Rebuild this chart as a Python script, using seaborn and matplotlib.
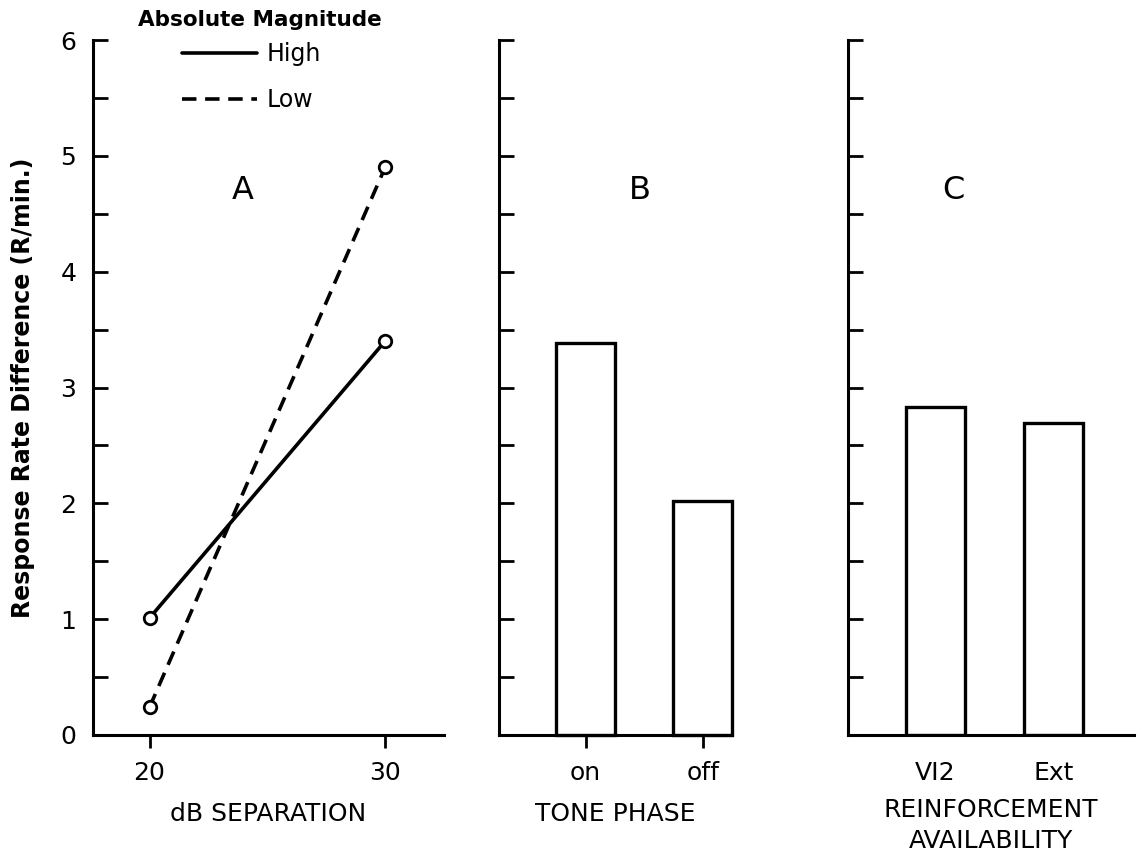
import numpy as np
import pandas as pd
import matplotlib
matplotlib.use("Agg")
import matplotlib.pyplot as plt
from matplotlib.lines import Line2D
import seaborn as sns

# ---- data ----
db_levels = [20, 30]
high_vals = [1.01, 3.40]
low_vals = [0.24, 4.90]

tone_phase = ["on", "off"]
tone_vals = [3.38, 2.02]

reinf_cats = ["VI2", "Ext"]
reinf_vals = [2.83, 2.69]

ytick_vals = np.arange(0, 6.01, 0.5)
ytick_labels = [str(int(v)) if float(v).is_integer() else "" for v in ytick_vals]

sns.set_theme(style="ticks")
plt.rcParams['font.family'] = ['DejaVu Sans']
plt.rcParams['text.color'] = 'black'
plt.rcParams['axes.labelcolor'] = 'black'

W, H = 1144, 857
fig = plt.figure(figsize=(W / 100, H / 100), dpi=100)

def ax_at(x0, x1, y0, y1):
    return fig.add_axes([x0 / W, 1 - y1 / H, (x1 - x0) / W, (y1 - y0) / H])

axA = ax_at(93, 444, 40, 735)
axB = ax_at(499, 732, 40, 735)
axC = ax_at(848, 1134, 40, 735)

spine_lw = 2.2
for ax in (axA, axB, axC):
    sns.despine(ax=ax)
    for s in ("left", "bottom"):
        ax.spines[s].set_linewidth(spine_lw)
        ax.spines[s].set_color("black")
    ax.set_ylim(0, 6)
    ax.set_yticks(ytick_vals)
    ax.tick_params(axis="y", direction="in", length=11, width=2, colors="black",
                   labelsize=18, pad=12)
    ax.tick_params(axis="x", direction="out", length=9, width=2, colors="black",
                   labelsize=18, pad=10)
    ax.set_facecolor("white")

axA.set_yticklabels(ytick_labels)
axB.set_yticklabels([""] * len(ytick_vals))
axC.set_yticklabels([""] * len(ytick_vals))

# ---- panel A ----
dfA = pd.DataFrame({
    "dB": db_levels * 2,
    "rate": high_vals + low_vals,
    "Magnitude": ["High"] * 2 + ["Low"] * 2,
})
line_kw = dict(color="black", lw=2.6, marker="o", markersize=9,
               markerfacecolor="white", markeredgecolor="black",
               markeredgewidth=2, clip_on=False)
sns.lineplot(data=dfA[dfA.Magnitude == "High"], x="dB", y="rate", ax=axA,
             **line_kw)
sns.lineplot(data=dfA[dfA.Magnitude == "Low"], x="dB", y="rate", ax=axA,
             linestyle=(0, (4, 2.4)), **line_kw)
axA.set_xlim(17.6, 32.5)
axA.set_xticks(db_levels)
axA.set_xticklabels([str(v) for v in db_levels])
axA.set_xlabel("dB SEPARATION", fontsize=18, labelpad=12)
axA.set_ylabel("Response Rate Difference (R/min.)", fontsize=17,
               fontweight="bold", labelpad=18)
axA.text(0.427, 0.784, "A", transform=axA.transAxes, fontsize=23,
         ha="center", va="center")

# legend title and entries
fig.text(260 / W, 1 - 20 / H, "Absolute Magnitude", fontsize=15.5,
         fontweight="bold", ha="center", va="center")
handles = [Line2D([], [], color="black", lw=2.6),
           Line2D([], [], color="black", lw=2.6, linestyle=(0, (4, 2.4)))]
leg = axA.legend(handles, ["High", "Low"], frameon=False, loc="upper left",
                 bbox_to_anchor=(163 / W, 1 - 23 / H),
                 bbox_transform=fig.transFigure, fontsize=17,
                 handlelength=3.2, handletextpad=0.4, labelspacing=0.95,
                 borderpad=0.3)

# ---- panel B ----
dfB = pd.DataFrame({"phase": tone_phase, "rate": tone_vals})
sns.barplot(data=dfB, x="phase", y="rate", ax=axB, color="white",
            edgecolor="black", linewidth=2.4, width=0.5)
for p in axB.patches:
    p.set_clip_on(False)
axB.set_xlim(-0.74, 1.25)
axB.set_ylim(0, 6)
axB.set_xlabel("TONE PHASE", fontsize=18, labelpad=12)
axB.set_ylabel("")
axB.text(0.605, 0.784, "B", transform=axB.transAxes, fontsize=23,
         ha="center", va="center")

# ---- panel C ----
dfC = pd.DataFrame({"cond": reinf_cats, "rate": reinf_vals})
sns.barplot(data=dfC, x="cond", y="rate", ax=axC, color="white",
            edgecolor="black", linewidth=2.4, width=0.5)
axC.set_xlim(-0.74, 1.68)
axC.set_ylim(0, 6)
axC.tick_params(axis="x", length=0, pad=19)
axC.set_xlabel("REINFORCEMENT\nAVAILABILITY", fontsize=18, labelpad=9,
               linespacing=1.4)
axC.set_ylabel("")
axC.text(0.367, 0.784, "C", transform=axC.transAxes, fontsize=23,
         ha="center", va="center")

fig.savefig("out.png", dpi=100, facecolor="white")
